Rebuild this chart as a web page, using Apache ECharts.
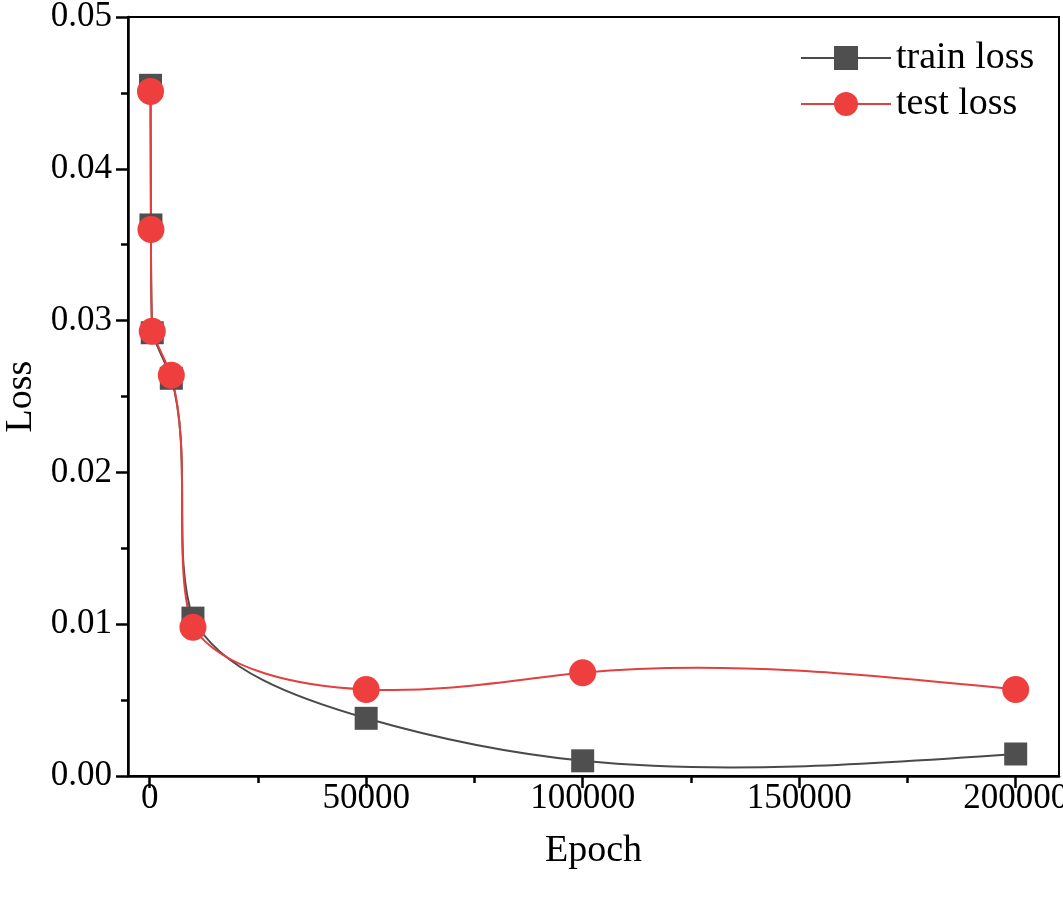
<!DOCTYPE html>
<html><head><meta charset="utf-8">
<script src="https://cdn.jsdelivr.net/npm/echarts@6/dist/echarts.min.js"></script>
<style>html,body{margin:0;padding:0;background:#fff}#c{width:1063px;height:901px}</style>
</head><body><div id="c"></div>
<script>
const epochs = [200, 300, 600, 5000, 10000, 50000, 100000, 200000];
const trainLoss = [0.0455, 0.0363, 0.0292, 0.0262, 0.0104, 0.0038, 0.0010, 0.00145];
const testLoss = [0.0451, 0.0360, 0.0293, 0.0264, 0.0098, 0.0057, 0.0068, 0.0057];
const xMajorTicks = [0, 50000, 100000, 150000, 200000];
const xMinorTicks = [25000, 75000, 125000, 175000];
const seriesNames = ['train loss', 'test loss'];

const FONT = 'Liberation Serif';
const TRAIN_LINE = '#4a4a4a', TRAIN_MARK = '#4f4f4f';
const TEST_LINE = '#e33f3f', TEST_MARK = '#ef3e3e';
const chart = echarts.init(document.getElementById('c'), null, {renderer: 'canvas'});
const pair = (ys) => epochs.map((e, i) => [e, ys[i]]);

// Natural-spline first derivatives (one coordinate) for parameter steps h
function splineDerivs(v, h) {
  const n = v.length;
  const a = new Array(n).fill(0), b = new Array(n).fill(0), c = new Array(n).fill(0), r = new Array(n).fill(0);
  b[0] = 2; c[0] = 1; r[0] = 3 * (v[1] - v[0]) / h[0];
  for (let i = 1; i < n - 1; i++) {
    a[i] = h[i]; b[i] = 2 * (h[i - 1] + h[i]); c[i] = h[i - 1];
    r[i] = 3 * (h[i] / h[i - 1] * (v[i] - v[i - 1]) + h[i - 1] / h[i] * (v[i + 1] - v[i]));
  }
  a[n - 1] = 1; b[n - 1] = 2; r[n - 1] = 3 * (v[n - 1] - v[n - 2]) / h[n - 2];
  for (let i = 1; i < n; i++) {
    const m = a[i] / b[i - 1];
    b[i] -= m * c[i - 1]; r[i] -= m * r[i - 1];
  }
  const d = new Array(n);
  d[n - 1] = r[n - 1] / b[n - 1];
  for (let i = n - 2; i >= 0; i--) d[i] = (r[i] - c[i] * d[i + 1]) / b[i];
  return d;
}
const clampX = (x, a, b) => Math.min(Math.max(x, Math.min(a, b)), Math.max(a, b));

function splineSeries(name, ys, color, z) {
  return {
    type: 'custom', name: name + ' curve', z: z, silent: true,
    data: pair(ys),
    renderItem: function (params, api) {
      if (params.dataIndex !== 0) return null;
      const P = epochs.map((e, i) => api.coord([e, ys[i]]));
      const n = P.length;
      const h = [];
      for (let i = 0; i < n - 1; i++) h.push(Math.max(1e-6, Math.hypot(P[i + 1][0] - P[i][0], P[i + 1][1] - P[i][1])));
      const dx = splineDerivs(P.map(p => p[0]), h);
      const dy = splineDerivs(P.map(p => p[1]), h);
      const children = [];
      for (let i = 0; i < n - 1; i++) {
        const x1 = P[i][0], x2 = P[i + 1][0];
        children.push({
          type: 'bezierCurve',
          shape: {
            x1: x1, y1: P[i][1], x2: x2, y2: P[i + 1][1],
            cpx1: clampX(x1 + dx[i] * h[i] / 3, x1, x2), cpy1: P[i][1] + dy[i] * h[i] / 3,
            cpx2: clampX(x2 - dx[i + 1] * h[i] / 3, x1, x2), cpy2: P[i + 1][1] - dy[i + 1] * h[i] / 3
          },
          style: {stroke: color, lineWidth: 2, fill: null}
        });
      }
      return {type: 'group', children: children};
    }
  };
}

chart.setOption({
  animation: false,
  backgroundColor: '#fff',
  grid: {left: 128, right: 4, top: 17, bottom: 125, show: true, borderColor: '#000', borderWidth: 2,
         backgroundColor: 'transparent', outerBoundsMode: 'none', containLabel: false},
  legend: {
    orient: 'vertical', left: 795, top: 34, itemWidth: 90, itemHeight: 30, itemGap: 8,
    textStyle: {fontFamily: FONT, fontSize: 38, color: '#000'},
    data: [
      {name: seriesNames[0], lineStyle: {color: TRAIN_LINE, width: 2, opacity: 1}},
      {name: seriesNames[1], lineStyle: {color: TEST_LINE, width: 2, opacity: 1}}
    ]
  },
  xAxis: [{
    type: 'value', min: -5000, max: 210000,
    name: 'Epoch', nameLocation: 'middle', nameGap: 56,
    nameTextStyle: {fontFamily: FONT, fontSize: 38, color: '#000'},
    axisLine: {show: true, onZero: false, lineStyle: {color: '#000', width: 2.5}},
    axisTick: {show: true, inside: false, length: 12, lineStyle: {color: '#000', width: 2.5}, customValues: xMajorTicks},
    axisLabel: {fontFamily: FONT, fontSize: 35, color: '#000', margin: 5, customValues: xMajorTicks, formatter: v => String(v)},
    splitLine: {show: false}
  }, {
    type: 'value', min: -5000, max: 210000, position: 'bottom',
    axisLine: {show: false, onZero: false},
    axisTick: {show: true, inside: false, length: 7, lineStyle: {color: '#000', width: 2.5}, customValues: xMinorTicks},
    axisLabel: {show: false},
    splitLine: {show: false}
  }],
  yAxis: {
    type: 'value', min: 0, max: 0.05, interval: 0.01,
    name: 'Loss', nameLocation: 'middle', nameGap: 86,
    nameTextStyle: {fontFamily: FONT, fontSize: 38, color: '#000'},
    axisLine: {show: true, onZero: false, lineStyle: {color: '#000', width: 2.5}},
    axisTick: {show: true, inside: false, length: 12, lineStyle: {color: '#000', width: 2.5}},
    minorTick: {show: true, splitNumber: 2, length: 7, lineStyle: {color: '#000', width: 2.5}},
    axisLabel: {fontFamily: FONT, fontSize: 35, color: '#000', margin: 16, formatter: v => v.toFixed(2)},
    splitLine: {show: false}
  },
  series: [
    splineSeries(seriesNames[0], trainLoss, TRAIN_LINE, 1),
    splineSeries(seriesNames[1], testLoss, TEST_LINE, 2),
    {
      name: seriesNames[0], type: 'line', data: pair(trainLoss), z: 3,
      symbol: 'rect', symbolSize: 23,
      itemStyle: {color: TRAIN_MARK},
      lineStyle: {color: TRAIN_LINE, width: 2, opacity: 0}
    }, {
      name: seriesNames[1], type: 'line', data: pair(testLoss), z: 4,
      symbol: 'circle', symbolSize: 27,
      itemStyle: {color: TEST_MARK},
      lineStyle: {color: TEST_LINE, width: 2, opacity: 0}
    }
  ]
});
</script></body></html>
